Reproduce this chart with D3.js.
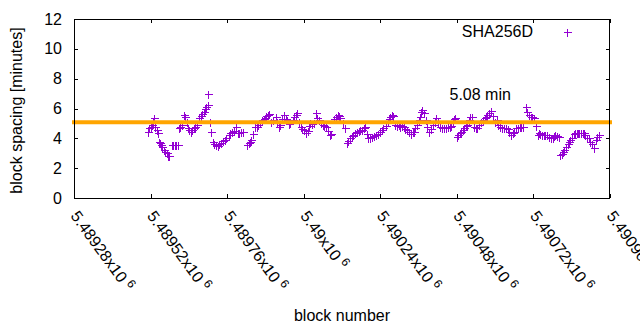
<!DOCTYPE html>
<html>
<head>
<meta charset="utf-8">
<script src="https://cdn.jsdelivr.net/npm/d3@7"></script>
<style>
  body { margin: 0; background: #fff; }
  text { font-family: "Liberation Sans", Arial, sans-serif; fill: #000; }
</style>
</head>
<body>
<svg id="chart" width="640" height="330"></svg>
<script>
// Block height of each sample
const blocks = [
  5489512, 5489515, 5489520, 5489523, 5489528, 5489531, 5489534, 5489539, 5489544, 5489545,
  5489550, 5489553, 5489556, 5489561, 5489566, 5489570, 5489575, 5489578, 5489586, 5489591,
  5489596, 5489600, 5489605, 5489608, 5489613, 5489618, 5489624, 5489629, 5489633, 5489636,
  5489641, 5489646, 5489651, 5489655, 5489660, 5489665, 5489671, 5489677, 5489682, 5489687,
  5489691, 5489695, 5489699, 5489701, 5489705, 5489710, 5489716, 5489720, 5489724, 5489731,
  5489735, 5489742, 5489746, 5489752, 5489757, 5489765, 5489770, 5489776, 5489781, 5489787,
  5489794, 5489798, 5489804, 5489810, 5489822, 5489827, 5489831, 5489836, 5489842, 5489848,
  5489853, 5489858, 5489863, 5489869, 5489874, 5489878, 5489883, 5489888, 5489892, 5489899,
  5489905, 5489912, 5489917, 5489923, 5489927, 5489933, 5489939, 5489943, 5489948, 5489954,
  5489958, 5489965, 5489971, 5489975, 5489979, 5489985, 5489991, 5489996, 5490001, 5490006,
  5490012, 5490016, 5490021, 5490027, 5490032, 5490038, 5490043, 5490049, 5490054, 5490059,
  5490064, 5490069, 5490075, 5490082, 5490087, 5490095, 5490100, 5490106, 5490111, 5490115,
  5490122, 5490128, 5490135, 5490140, 5490146, 5490151, 5490156, 5490161, 5490166, 5490172,
  5490177, 5490183, 5490188, 5490193, 5490199, 5490203, 5490208, 5490214, 5490219, 5490226,
  5490233, 5490240, 5490246, 5490250, 5490257, 5490263, 5490268, 5490271, 5490276, 5490280,
  5490287, 5490293, 5490298, 5490303, 5490308, 5490314, 5490319, 5490325, 5490330, 5490337,
  5490341, 5490345, 5490349, 5490355, 5490360, 5490365, 5490369, 5490372, 5490377, 5490382,
  5490385, 5490392, 5490398, 5490405, 5490410, 5490416, 5490420, 5490426, 5490432, 5490440,
  5490445, 5490451, 5490458, 5490462, 5490467, 5490472, 5490475, 5490481, 5490484, 5490489,
  5490494, 5490498, 5490503, 5490508, 5490513, 5490517, 5490522, 5490528, 5490534, 5490539,
  5490544, 5490549, 5490555, 5490561, 5490567, 5490572, 5490576, 5490581, 5490588, 5490593,
  5490599, 5490605, 5490610, 5490615, 5490621, 5490627, 5490633, 5490640, 5490644, 5490651,
  5490655, 5490660, 5490665, 5490671, 5490677, 5490682, 5490688, 5490696, 5490701, 5490706,
  5490712, 5490717, 5490722, 5490728, 5490733, 5490737, 5490742, 5490746, 5490753, 5490757,
  5490762, 5490768, 5490775, 5490780, 5490784, 5490789, 5490794, 5490799, 5490803, 5490808,
  5490812, 5490817, 5490822, 5490827, 5490831, 5490836, 5490841, 5490846, 5490850, 5490855,
  5490860, 5490864, 5490869, 5490874, 5490878, 5490883, 5490888, 5490893, 5490898, 5490904,
  5490909, 5490915, 5490919, 5490926
];

// Block spacing in minutes for each sample
const spacing = [
  4.44, 4.67, 4.78, 4.90, 5.10, 5.34, 4.78, 4.56, 4.33, 3.77,
  3.66, 3.55, 3.44, 3.20, 3.10, 3.00, 2.84, 2.80, 3.55, 3.55,
  3.55, 3.55, 3.55, 4.67, 4.78, 4.90, 5.56, 5.45, 5.10, 4.67,
  4.56, 4.44, 4.56, 4.67, 4.78, 4.90, 5.34, 5.52, 5.60, 5.78,
  5.95, 6.12, 6.95, 6.23, 5.10, 4.44, 3.77, 3.60, 3.55, 3.50,
  3.60, 3.66, 3.80, 3.89, 4.00, 4.22, 4.33, 4.44, 4.50, 4.78,
  4.33, 4.35, 4.40, 4.44, 3.55, 3.66, 3.77, 3.89, 4.30, 4.74,
  4.78, 4.90, 5.00, 5.23, 5.30, 5.34, 5.50, 5.56, 5.63, 5.10,
  5.20, 5.45, 5.10, 4.78, 4.90, 5.30, 5.56, 5.30, 5.23, 4.94,
  5.00, 5.20, 5.45, 5.56, 5.68, 5.10, 4.78, 4.60, 4.56, 4.33,
  4.50, 4.80, 5.00, 4.94, 5.00, 5.68, 5.34, 5.20, 5.00, 4.90,
  4.85, 4.78, 4.50, 4.22, 4.30, 5.30, 5.45, 5.56, 5.50, 5.34,
  5.00, 4.67, 3.66, 3.80, 4.00, 4.15, 4.22, 4.33, 4.44, 4.50,
  4.56, 4.56, 4.67, 4.78, 4.30, 4.00, 4.05, 4.11, 4.15, 4.22,
  4.30, 4.44, 4.55, 4.67, 4.85, 5.10, 5.30, 5.45, 5.56, 5.50,
  4.90, 4.85, 4.90, 4.78, 4.80, 4.78, 4.60, 4.56, 4.40, 4.30,
  4.40, 4.44, 4.67, 4.90, 5.20, 5.45, 5.78, 5.90, 5.68, 5.20,
  4.78, 4.44, 4.60, 4.90, 5.10, 5.34, 5.10, 4.78, 4.70, 4.67,
  4.70, 4.75, 4.78, 4.85, 5.10, 5.30, 5.34, 4.11, 4.22, 4.33,
  4.44, 4.55, 4.67, 4.80, 4.90, 5.20, 5.45, 5.45, 4.78, 4.70,
  4.67, 4.90, 5.10, 5.23, 5.34, 5.45, 5.56, 5.68, 5.83, 5.50,
  5.10, 5.20, 4.90, 4.75, 4.71, 4.70, 4.67, 4.60, 4.40, 4.22,
  4.35, 4.44, 4.67, 4.70, 4.75, 4.78, 4.78, 6.08, 5.78, 5.56,
  5.45, 5.41, 5.34, 4.85, 4.22, 4.35, 4.30, 4.22, 4.20, 4.22,
  4.22, 4.10, 4.05, 4.00, 4.15, 4.22, 4.18, 4.11, 2.88, 2.95,
  3.10, 3.25, 3.44, 3.60, 3.75, 3.89, 4.05, 4.27, 4.33, 4.35,
  4.33, 4.35, 4.33, 4.33, 4.33, 4.25, 4.05, 4.00, 3.77, 3.60,
  3.33, 3.90, 4.11, 4.22
];

const xTickValues = [5489280, 5489520, 5489760, 5490000, 5490240, 5490480, 5490720, 5490960];
const xTickMantissa = ["5.48928", "5.48952", "5.48976", "5.49", "5.49024", "5.49048", "5.49072", "5.49096"];
const xTickExponent = "6";
const yTickValues = [0, 2, 4, 6, 8, 10, 12];
const meanSpacing = 5.08;
const meanLabel = "5.08 min";
const seriesName = "SHA256D";
const xTitle = "block number";
const yTitle = "block spacing [minutes]";

const svg = d3.select("#chart");
const margin = { left: 74, right: 610, top: 19, bottom: 198 };

const x = d3.scaleLinear().domain([5489280, 5490960]).range([margin.left, margin.right]);
const y = d3.scaleLinear().domain([0, 12]).range([margin.bottom, margin.top]);

const purple = "#9400d3";
const orange = "#ffa500";
const fontSize = 16;

// Y axis ticks and labels (left), mirrored ticks on the right
const yAxisL = d3.axisLeft(y).tickValues(yTickValues).tickSize(-4).tickPadding(12);
const gyl = svg.append("g").attr("transform", `translate(${margin.left},0)`).call(yAxisL);
gyl.select(".domain").remove();
gyl.selectAll("line").attr("stroke", "#000").attr("shape-rendering", "crispEdges");
gyl.selectAll("text").attr("font-size", fontSize).attr("font-family", "Liberation Sans, Arial, sans-serif").attr("fill", "#000");

const yAxisR = d3.axisRight(y).tickValues(yTickValues).tickSize(-4).tickFormat("");
const gyr = svg.append("g").attr("transform", `translate(${margin.right},0)`).call(yAxisR);
gyr.select(".domain").remove();
gyr.selectAll("line").attr("stroke", "#000").attr("shape-rendering", "crispEdges");

// X axis ticks, bottom and mirrored top
const xAxisB = d3.axisBottom(x).tickValues(xTickValues).tickSize(-4).tickFormat("");
const gxb = svg.append("g").attr("transform", `translate(0,${margin.bottom})`).call(xAxisB);
gxb.select(".domain").remove();
gxb.selectAll("line").attr("stroke", "#000").attr("shape-rendering", "crispEdges");

const xAxisT = d3.axisTop(x).tickValues(xTickValues).tickSize(-4).tickFormat("");
const gxt = svg.append("g").attr("transform", `translate(0,${margin.top})`).call(xAxisT);
gxt.select(".domain").remove();
gxt.selectAll("line").attr("stroke", "#000").attr("shape-rendering", "crispEdges");

// Rotated x tick labels with a superscript exponent
const angle = 54;
xTickValues.forEach((v, i) => {
  const ox = x(v) - 4, oy = 216;
  const t = svg.append("text")
    .attr("transform", `translate(${ox},${oy}) rotate(${angle})`)
    .attr("font-size", fontSize);
  t.append("tspan").text(xTickMantissa[i] + "x10");
  t.append("tspan").attr("dx", 4).attr("dy", -6).attr("font-size", 12).text(xTickExponent);
});

// Data points drawn as "+" markers
const arm = 4;
const pts = svg.append("g").attr("stroke", purple).attr("stroke-width", 1)
  .attr("shape-rendering", "crispEdges");
blocks.forEach((b, i) => {
  const cx = Math.round(x(b)) + 0.5, cy = Math.round(y(spacing[i])) + 0.5;
  pts.append("path").attr("d", `M${cx - arm},${cy}H${cx + arm}M${cx},${cy - arm}V${cy + arm}`);
});

// Mean spacing line
svg.append("line")
  .attr("x1", x.range()[0]).attr("x2", x.range()[1])
  .attr("y1", y(meanSpacing)).attr("y2", y(meanSpacing))
  .attr("stroke", orange).attr("stroke-width", 4).attr("stroke-linecap", "square");

// Plot frame
svg.append("rect")
  .attr("x", margin.left + 0.5).attr("y", margin.top + 0.5)
  .attr("width", margin.right - margin.left - 1).attr("height", margin.bottom - margin.top)
  .attr("fill", "none").attr("stroke", "#000").attr("shape-rendering", "crispEdges");

// Mean label
svg.append("text").attr("x", x(5490457)).attr("y", y(6.6))
  .attr("font-size", fontSize).text(meanLabel);

// Legend
svg.append("text").attr("x", 533).attr("y", 37).attr("text-anchor", "end")
  .attr("font-size", fontSize).text(seriesName);
svg.append("path").attr("stroke", purple).attr("shape-rendering", "crispEdges")
  .attr("d", `M${567.5 - arm},32.5H${567.5 + arm}M567.5,${32.5 - arm}V${32.5 + arm}`);

// Axis titles
svg.append("text").attr("x", (margin.left + margin.right) / 2).attr("y", 321)
  .attr("text-anchor", "middle").attr("font-size", fontSize).text(xTitle);
svg.append("text").attr("transform", `translate(22,${(margin.top + margin.bottom) / 2 + 2}) rotate(-90)`)
  .attr("text-anchor", "middle").attr("font-size", fontSize).text(yTitle);
</script>
</body>
</html>
